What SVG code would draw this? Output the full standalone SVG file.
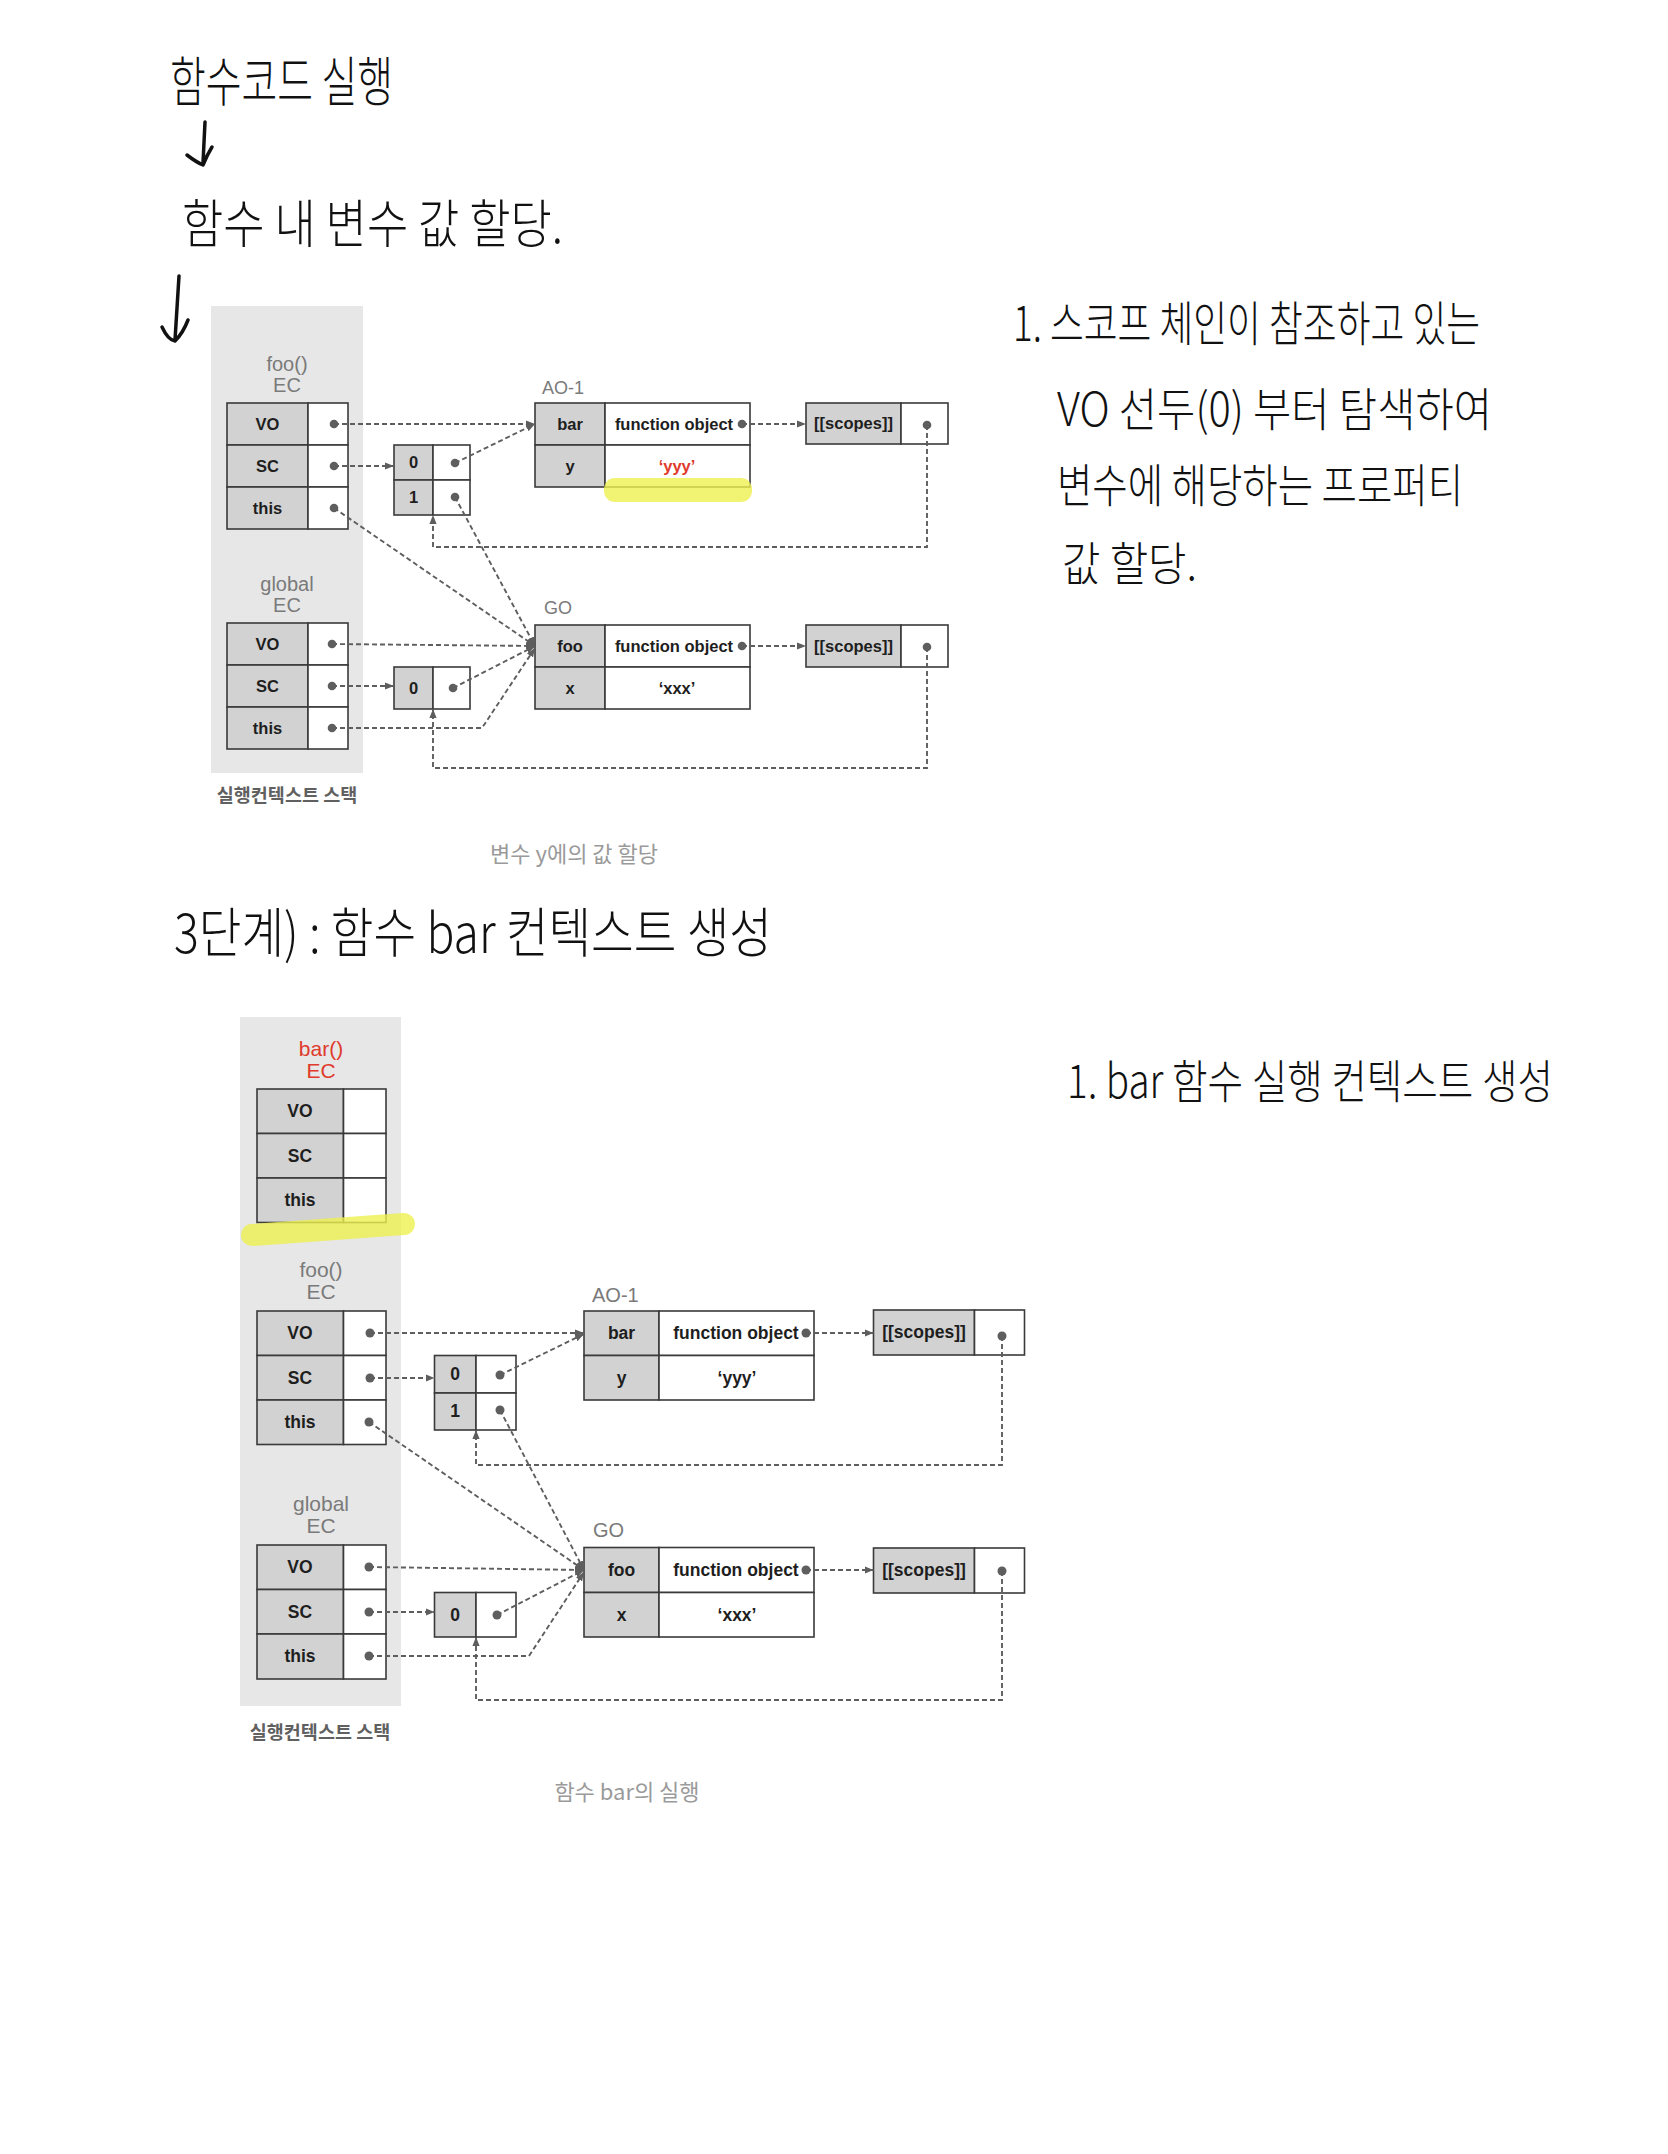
<svg xmlns="http://www.w3.org/2000/svg" width="1668" height="2154" viewBox="0 0 1668 2154">
<defs>
<style>
.panel{fill:#e7e7e7}
.k{fill:#d2d2d2;stroke:#3a3a3a;stroke-width:1.6}
.v{fill:#fff;stroke:#3a3a3a;stroke-width:1.6}
.t{font-family:"Liberation Sans",Arial,sans-serif;font-weight:bold;font-size:16.5px;fill:#1e1e1e;text-anchor:middle}
.t2{font-family:"Liberation Sans",Arial,sans-serif;font-weight:bold;font-size:17.5px;fill:#1e1e1e;text-anchor:middle}
.ec{font-family:"Liberation Sans",Arial,sans-serif;font-size:20px;fill:#7a7a7a;text-anchor:middle}
.ec2{font-family:"Liberation Sans",Arial,sans-serif;font-size:21px;fill:#7a7a7a;text-anchor:middle}
.red{fill:#e03a2c}
.name{font-family:"Liberation Sans",Arial,sans-serif;font-size:18px;fill:#7a7a7a}
.name2{font-family:"Liberation Sans",Arial,sans-serif;font-size:20px;fill:#7a7a7a}
.ko{font-family:"Noto Sans CJK KR",sans-serif;font-size:18.5px;font-weight:bold;fill:#606060;text-anchor:middle}
.cap{font-family:"Noto Sans CJK KR",sans-serif;font-size:22px;fill:#9a9a9a;text-anchor:middle}
.hw{font-family:"Noto Sans CJK KR",sans-serif;font-weight:300;fill:#111}
.dash{fill:none;stroke:#5e5e5e;stroke-width:1.9;stroke-dasharray:5 3}
.dot{fill:#5e5e5e}
.hl{fill:#eef050;opacity:0.8}
.pen{fill:none;stroke:#111;stroke-width:3.5;stroke-linecap:round;stroke-linejoin:round}
</style>
<marker id="ah" viewBox="0 0 10 10" refX="10" refY="5" markerWidth="9" markerHeight="9" markerUnits="userSpaceOnUse" orient="auto">
<path d="M0,1 L10,5 L0,9 z" fill="#5e5e5e"/>
</marker>
</defs>
<rect x="0" y="0" width="1668" height="2154" fill="#fff"/>

<!-- handwritten notes -->
<g id="note-top">
<text class="hw" x="170" y="102" font-size="54" textLength="223" lengthAdjust="spacingAndGlyphs">함수코드 실행</text>
<path class="pen" d="M205,122 L203,163 M187,155 Q196,162 203,165 Q207,155 212,147"/>
<text class="hw" x="182" y="243" font-size="52" textLength="381" lengthAdjust="spacingAndGlyphs">함수 내 변수 값 할당.</text>
<path class="pen" d="M179,276 L175,340 M162,327 Q168,340 175,341 Q183,333 188,320"/>
</g>
<g id="note-right-1">
<text class="hw" x="1013" y="341" font-size="48" textLength="467" lengthAdjust="spacingAndGlyphs">1. 스코프 체인이 참조하고 있는</text>
<text class="hw" x="1057" y="426" font-size="46" textLength="435" lengthAdjust="spacingAndGlyphs">VO 선두(0) 부터 탐색하여</text>
<text class="hw" x="1057" y="502" font-size="46" textLength="406" lengthAdjust="spacingAndGlyphs">변수에 해당하는 프로퍼티</text>
<text class="hw" x="1062" y="580" font-size="46" textLength="135" lengthAdjust="spacingAndGlyphs">값 할당.</text>
</g>
<g id="note-step3">
<text class="hw" x="174" y="953" font-size="54" textLength="598" lengthAdjust="spacingAndGlyphs">3단계) : 함수 bar 컨텍스트 생성</text>
</g>
<g id="note-right-2">
<text class="hw" x="1067" y="1098" font-size="46" textLength="486" lengthAdjust="spacingAndGlyphs">1. bar 함수 실행 컨텍스트 생성</text>
</g>

<!-- ===== TOP DIAGRAM ===== -->
<g id="top-stack">
<rect class="panel" x="211" y="306" width="152" height="467"/>
<text class="ko" x="287" y="802">실행컨텍스트 스택</text>
</g>
<g id="top-foo-ec">
<text class="ec" x="287" y="371">foo()</text>
<text class="ec" x="287" y="392">EC</text>
<rect class="k" x="227" y="403" width="81" height="42"/><rect class="v" x="308" y="403" width="40" height="42"/>
<rect class="k" x="227" y="445" width="81" height="42"/><rect class="v" x="308" y="445" width="40" height="42"/>
<rect class="k" x="227" y="487" width="81" height="42"/><rect class="v" x="308" y="487" width="40" height="42"/>
<text class="t" x="267.5" y="430">VO</text>
<text class="t" x="267.5" y="472">SC</text>
<text class="t" x="267.5" y="514">this</text>
</g>
<g id="top-global-ec">
<text class="ec" x="287" y="591">global</text>
<text class="ec" x="287" y="612">EC</text>
<rect class="k" x="227" y="623" width="81" height="42"/><rect class="v" x="308" y="623" width="40" height="42"/>
<rect class="k" x="227" y="665" width="81" height="42"/><rect class="v" x="308" y="665" width="40" height="42"/>
<rect class="k" x="227" y="707" width="81" height="42"/><rect class="v" x="308" y="707" width="40" height="42"/>
<text class="t" x="267.5" y="650">VO</text>
<text class="t" x="267.5" y="692">SC</text>
<text class="t" x="267.5" y="734">this</text>
</g>
<g id="top-foo-scope-array">
<rect class="k" x="394" y="445" width="39" height="35"/><rect class="v" x="433" y="445" width="37" height="35"/>
<rect class="k" x="394" y="480" width="39" height="35"/><rect class="v" x="433" y="480" width="37" height="35"/>
<text class="t" x="413.5" y="468">0</text>
<text class="t" x="413.5" y="503">1</text>
</g>
<g id="top-global-scope-array">
<rect class="k" x="394" y="667" width="39" height="42"/><rect class="v" x="433" y="667" width="37" height="42"/>
<text class="t" x="413.5" y="694">0</text>
</g>
<g id="top-ao1">
<text class="name" x="542" y="394">AO-1</text>
<rect class="k" x="535" y="403" width="70" height="42"/><rect class="v" x="605" y="403" width="145" height="42"/>
<rect class="k" x="535" y="445" width="70" height="42"/><rect class="v" x="605" y="445" width="145" height="42"/>
<text class="t" x="570" y="430">bar</text>
<text class="t" x="674" y="430">function object</text>
<text class="t" x="570" y="472">y</text>
<text class="t red" x="677" y="472">‘yyy’</text>
<rect class="hl" x="604" y="478" width="148" height="24" rx="11"/>
</g>
<g id="top-ao1-scopes">
<rect class="k" x="806" y="403" width="95" height="41"/><rect class="v" x="901" y="403" width="47" height="41"/>
<text class="t" x="853.5" y="429" font-size="17">[[scopes]]</text>
</g>
<g id="top-go">
<text class="name" x="544" y="614">GO</text>
<rect class="k" x="535" y="625" width="70" height="42"/><rect class="v" x="605" y="625" width="145" height="42"/>
<rect class="k" x="535" y="667" width="70" height="42"/><rect class="v" x="605" y="667" width="145" height="42"/>
<text class="t" x="570" y="652">foo</text>
<text class="t" x="674" y="652">function object</text>
<text class="t" x="570" y="694">x</text>
<text class="t" x="677" y="694">‘xxx’</text>
</g>
<g id="top-go-scopes">
<rect class="k" x="806" y="625" width="95" height="42"/><rect class="v" x="901" y="625" width="47" height="42"/>
<text class="t" x="853.5" y="652" font-size="17">[[scopes]]</text>
</g>
<g id="top-caption">
<text class="cap" x="574" y="862">변수 y에의 값 할당</text>
</g>

<g id="connectors-top">
<path class="dash" marker-end="url(#ah)" d="M334,424 H535"/>
<path class="dash" marker-end="url(#ah)" d="M334,466 H394"/>
<path class="dash" marker-end="url(#ah)" d="M455,463 L535,424"/>
<path class="dash" marker-end="url(#ah)" d="M455,497 L535,646"/>
<path class="dash" marker-end="url(#ah)" d="M334,508 L535,646"/>
<path class="dash" marker-end="url(#ah)" d="M332,644 L535,646"/>
<path class="dash" marker-end="url(#ah)" d="M332,686 H394"/>
<path class="dash" marker-end="url(#ah)" d="M453,688 L535,646"/>
<path class="dash" marker-end="url(#ah)" d="M332,728 H482 L535,648"/>
<path class="dash" marker-end="url(#ah)" d="M742,424 H806"/>
<path class="dash" marker-end="url(#ah)" d="M742,646 H806"/>
<path class="dash" marker-end="url(#ah)" d="M927,425 V547 H433 V515"/>
<path class="dash" marker-end="url(#ah)" d="M927,647 V768 H433 V709"/>
<circle class="dot" cx="334" cy="424" r="4.3"/>
<circle class="dot" cx="334" cy="466" r="4.3"/>
<circle class="dot" cx="455" cy="463" r="4.3"/>
<circle class="dot" cx="455" cy="497" r="4.3"/>
<circle class="dot" cx="334" cy="508" r="4.3"/>
<circle class="dot" cx="332" cy="644" r="4.3"/>
<circle class="dot" cx="332" cy="686" r="4.3"/>
<circle class="dot" cx="453" cy="688" r="4.3"/>
<circle class="dot" cx="332" cy="728" r="4.3"/>
<circle class="dot" cx="742" cy="424" r="4.3"/>
<circle class="dot" cx="742" cy="646" r="4.3"/>
<circle class="dot" cx="927" cy="425" r="4.3"/>
<circle class="dot" cx="927" cy="647" r="4.3"/>
</g>

<!-- ===== BOTTOM DIAGRAM ===== -->
<g id="bottom-stack">
<rect class="panel" x="240" y="1017" width="161" height="689"/>
<text class="ko" x="320" y="1739" font-size="19.5">실행컨텍스트 스택</text>
</g>
<g id="bottom-bar-ec">
<text class="ec2 red" x="321" y="1056">bar()</text>
<text class="ec2 red" x="321" y="1078">EC</text>
<rect class="k" x="257" y="1089" width="86.5" height="44.5"/><rect class="v" x="343.5" y="1089" width="42.5" height="44.5"/>
<rect class="k" x="257" y="1133.5" width="86.5" height="44.5"/><rect class="v" x="343.5" y="1133.5" width="42.5" height="44.5"/>
<rect class="k" x="257" y="1178" width="86.5" height="44.5"/><rect class="v" x="343.5" y="1178" width="42.5" height="44.5"/>
<text class="t2" x="300" y="1117">VO</text>
<text class="t2" x="300" y="1162">SC</text>
<text class="t2" x="300" y="1206">this</text>
<path d="M252,1235 L404,1224" fill="none" stroke="#eef050" stroke-width="22" stroke-linecap="round" opacity="0.8"/>
</g>
<g id="bottom-foo-ec">
<text class="ec2" x="321" y="1277">foo()</text>
<text class="ec2" x="321" y="1299">EC</text>
<rect class="k" x="257" y="1311" width="86.5" height="44.5"/><rect class="v" x="343.5" y="1311" width="42.5" height="44.5"/>
<rect class="k" x="257" y="1355.5" width="86.5" height="44.5"/><rect class="v" x="343.5" y="1355.5" width="42.5" height="44.5"/>
<rect class="k" x="257" y="1400" width="86.5" height="44.5"/><rect class="v" x="343.5" y="1400" width="42.5" height="44.5"/>
<text class="t2" x="300" y="1339">VO</text>
<text class="t2" x="300" y="1384">SC</text>
<text class="t2" x="300" y="1428">this</text>
</g>
<g id="bottom-global-ec">
<text class="ec2" x="321" y="1511">global</text>
<text class="ec2" x="321" y="1533">EC</text>
<rect class="k" x="257" y="1545" width="86.5" height="44.5"/><rect class="v" x="343.5" y="1545" width="42.5" height="44.5"/>
<rect class="k" x="257" y="1589.5" width="86.5" height="44.5"/><rect class="v" x="343.5" y="1589.5" width="42.5" height="44.5"/>
<rect class="k" x="257" y="1634" width="86.5" height="45"/><rect class="v" x="343.5" y="1634" width="42.5" height="45"/>
<text class="t2" x="300" y="1573">VO</text>
<text class="t2" x="300" y="1618">SC</text>
<text class="t2" x="300" y="1662">this</text>
</g>
<g id="bottom-foo-scope-array">
<rect class="k" x="434.5" y="1355.5" width="41.5" height="37.5"/><rect class="v" x="476" y="1355.5" width="40" height="37.5"/>
<rect class="k" x="434.5" y="1393" width="41.5" height="37"/><rect class="v" x="476" y="1393" width="40" height="37"/>
<text class="t2" x="455" y="1380">0</text>
<text class="t2" x="455" y="1417">1</text>
</g>
<g id="bottom-global-scope-array">
<rect class="k" x="434.5" y="1592.5" width="41.5" height="44.5"/><rect class="v" x="476" y="1592.5" width="40" height="44.5"/>
<text class="t2" x="455" y="1621">0</text>
</g>
<g id="bottom-ao1">
<text class="name2" x="592" y="1302">AO-1</text>
<rect class="k" x="584" y="1311" width="75" height="44.5"/><rect class="v" x="659" y="1311" width="155" height="44.5"/>
<rect class="k" x="584" y="1355.5" width="75" height="44.5"/><rect class="v" x="659" y="1355.5" width="155" height="44.5"/>
<text class="t2" x="621.5" y="1339">bar</text>
<text class="t2" x="736" y="1339">function object</text>
<text class="t2" x="621.5" y="1384">y</text>
<text class="t2" x="737" y="1384">‘yyy’</text>
</g>
<g id="bottom-ao1-scopes">
<rect class="k" x="873.5" y="1310" width="101" height="45"/><rect class="v" x="974.5" y="1310" width="50" height="45"/>
<text class="t2" x="924" y="1338" font-size="18">[[scopes]]</text>
</g>
<g id="bottom-go">
<text class="name2" x="593" y="1537">GO</text>
<rect class="k" x="584" y="1547.5" width="75" height="45"/><rect class="v" x="659" y="1547.5" width="155" height="45"/>
<rect class="k" x="584" y="1592.5" width="75" height="44.5"/><rect class="v" x="659" y="1592.5" width="155" height="44.5"/>
<text class="t2" x="621.5" y="1576">foo</text>
<text class="t2" x="736" y="1576">function object</text>
<text class="t2" x="621.5" y="1621">x</text>
<text class="t2" x="737" y="1621">‘xxx’</text>
</g>
<g id="bottom-go-scopes">
<rect class="k" x="873.5" y="1548" width="101" height="45"/><rect class="v" x="974.5" y="1548" width="50" height="45"/>
<text class="t2" x="924" y="1576" font-size="18">[[scopes]]</text>
</g>
<g id="bottom-caption">
<text class="cap" x="627" y="1800" font-size="23">함수 bar의 실행</text>
</g>

<g id="connectors-bottom">
<path class="dash" marker-end="url(#ah)" d="M370,1333 H584"/>
<path class="dash" marker-end="url(#ah)" d="M370,1378 H434.5"/>
<path class="dash" marker-end="url(#ah)" d="M500,1375 L584,1334"/>
<path class="dash" marker-end="url(#ah)" d="M500,1410 L584,1570"/>
<path class="dash" marker-end="url(#ah)" d="M369,1422 L584,1570"/>
<path class="dash" marker-end="url(#ah)" d="M369,1567 L584,1570"/>
<path class="dash" marker-end="url(#ah)" d="M369,1612 H434.5"/>
<path class="dash" marker-end="url(#ah)" d="M497,1615 L584,1570"/>
<path class="dash" marker-end="url(#ah)" d="M369,1656 H529 L584,1572"/>
<path class="dash" marker-end="url(#ah)" d="M806,1333 H873.5"/>
<path class="dash" marker-end="url(#ah)" d="M806,1570 H873.5"/>
<path class="dash" marker-end="url(#ah)" d="M1002,1336 V1465 H476 V1430"/>
<path class="dash" marker-end="url(#ah)" d="M1002,1571 V1700 H476 V1637"/>
<circle class="dot" cx="370" cy="1333" r="4.5"/>
<circle class="dot" cx="370" cy="1378" r="4.5"/>
<circle class="dot" cx="500" cy="1375" r="4.5"/>
<circle class="dot" cx="500" cy="1410" r="4.5"/>
<circle class="dot" cx="369" cy="1422" r="4.5"/>
<circle class="dot" cx="369" cy="1567" r="4.5"/>
<circle class="dot" cx="369" cy="1612" r="4.5"/>
<circle class="dot" cx="497" cy="1615" r="4.5"/>
<circle class="dot" cx="369" cy="1656" r="4.5"/>
<circle class="dot" cx="806" cy="1333" r="4.5"/>
<circle class="dot" cx="806" cy="1570" r="4.5"/>
<circle class="dot" cx="1002" cy="1336" r="4.5"/>
<circle class="dot" cx="1002" cy="1571" r="4.5"/>
</g>
</svg>
